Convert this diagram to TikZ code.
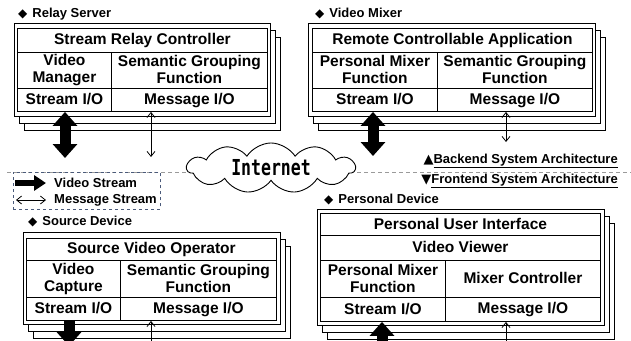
\documentclass[tikz,border=0pt]{standalone}
\usepackage{fontspec}
\setmainfont{Liberation Sans}
\newfontfamily\symfont{DejaVu Sans}
\newfontfamily\netfont{DejaVu Sans Mono}
\usepackage{graphicx}
\usetikzlibrary{shapes.symbols,arrows.meta}
\definecolor{legendcol}{HTML}{4A5A7A}
\definecolor{dashcol}{HTML}{9A9A9A}
\newcommand\cellbox[6]{\node[cell, minimum width=#4pt-#2pt, minimum height=#5pt-#3pt] (#1) at (#2,#3) {#6};}
\newcommand\stack[4]{%
  \draw[layer] (#1+10,#2+14) rectangle (#3+10,#4+14);
  \draw[layer] (#1+5,#2+7) rectangle (#3+5,#4+7);
  \draw[layer] (#1,#2) rectangle (#3,#4);}
\newcommand\dia{{\symfont\fontsize{12}{12}\selectfont ◆}\hspace{5pt}}
\newcommand\topstrut{\rule{0pt}{12pt}}
\newcommand\botstrut{\rule[-2pt]{0pt}{2pt}}
\begin{document}
\begin{tikzpicture}[x=1pt,y=-1pt,
  cell/.style={draw, line width=0.9pt, fill=white, inner sep=0pt, align=center, anchor=north west,
    font=\fontsize{15.5}{17}\selectfont\bfseries,
    execute at begin node=\topstrut, execute at end node=\botstrut},
  layer/.style={draw, line width=0.9pt, fill=white},
  title/.style={anchor=west, inner sep=0pt, font=\fontsize{13}{13}\selectfont\bfseries},
  legtext/.style={anchor=west, inner sep=0pt, font=\fontsize{13}{13}\selectfont\bfseries},
  thickdbl/.style={line width=11pt, {Triangle[width=24pt,length=14pt]}-{Triangle[width=24pt,length=14pt]}},
  thickdown/.style={line width=11pt, -{Triangle[width=24pt,length=14pt]}},
  thickup/.style={line width=11pt, {Triangle[width=24pt,length=14pt]}-},
  thindbl/.style={line width=0.8pt, {Straight Barb[length=5pt,width=8pt]}-{Straight Barb[length=5pt,width=8pt]}},
  dashline/.style={draw=dashcol, line width=0.9pt, dash pattern=on 4pt off 3pt}
]
\clip (0,0) rectangle (631,340);
\fill[white] (0,0) rectangle (631,340);

% separator line
\coordinate (dl) at (7,172);
\coordinate (dr) at (631,172);
\draw[dashline] (dl) -- (dr);

% ---------- Relay Server ----------
\node[title] (rsTitle) at (18,14) {\dia Relay Server};
\stack{14}{23}{270}{116}
\cellbox{rsHead}{17}{28}{267}{52}{Stream Relay Controller}
\cellbox{rsVM}{17}{52}{111}{88}{Video\\Manager}
\cellbox{rsSG}{111}{52}{267}{88}{Semantic Grouping\\Function}
\cellbox{rsStream}{17}{88}{111}{111}{Stream I/O}
\cellbox{rsMsg}{111}{88}{267}{111}{Message I/O}
\coordinate (rsV) at (65,158);
\coordinate (rsM) at (151,157);
\draw[thickdbl] (rsStream.south -| rsV) -- (rsV);
\draw[thindbl] (rsMsg.south -| rsM) -- (rsM);

% ---------- Video Mixer ----------
\node[title] (vmTitle) at (315,14) {\dia Video Mixer};
\stack{308}{23}{595}{116}
\cellbox{vmHead}{312}{28}{592}{52}{Remote Controllable Application}
\cellbox{vmPM}{312}{52}{437}{88}{Personal Mixer\\Function}
\cellbox{vmSG}{437}{52}{592}{88}{Semantic Grouping\\Function}
\cellbox{vmStream}{312}{88}{437}{111}{Stream I/O}
\cellbox{vmMsg}{437}{88}{592}{111}{Message I/O}
\coordinate (vmV) at (373,156);
\coordinate (vmM) at (506,142);
\draw[thickdbl] (vmStream.south -| vmV) -- (vmV);
\draw[thindbl] (vmMsg.south -| vmM) -- (vmM);

% ---------- Cloud ----------
\node[cloud, draw, fill=white, line width=0.9pt, cloud puffs=11, cloud puff arc=115, aspect=3.3,
  minimum width=168pt, minimum height=50pt, inner sep=0pt] (net) at (271,168)
  {\netfont\bfseries\fontsize{22}{22}\selectfont\scalebox{0.75}[1]{Internet}};

% ---------- Architecture labels ----------
\node[legtext, anchor=east] (backend) at (618,161) {{\symfont\fontsize{13}{13}\selectfont ▲}\underline{Backend System Architecture}};
\node[legtext, anchor=east] (frontend) at (618,181) {{\symfont\fontsize{13}{13}\selectfont ▼}\underline{Frontend System Architecture}};

% ---------- Legend ----------
\node[draw=legendcol, dashed, line width=0.8pt, anchor=north west, minimum width=147pt, minimum height=37pt, inner sep=0pt] (legend) at (13,172) {};
\coordinate (lva) at (15,183);
\coordinate (lvb) at (46,183);
\coordinate (lma) at (16,200);
\coordinate (lmb) at (46,200);
\draw[line width=6pt, -{Triangle[width=15pt,length=12pt]}] (lva) -- (lvb);
\draw[thindbl] (lma) -- (lmb);
\node[legtext] (lvt) at (54,183) {Video Stream};
\node[legtext] (lmt) at (54,200) {Message Stream};

% ---------- Source Device ----------
\node[title] (sdTitle) at (28,222) {\dia Source Device};
\stack{23}{232}{280}{324}
\cellbox{sdHead}{26}{238}{276}{260}{Source Video Operator}
\cellbox{sdVC}{26}{260}{120}{297}{Video\\Capture}
\cellbox{sdSG}{120}{260}{276}{297}{Semantic Grouping\\Function}
\cellbox{sdStream}{26}{297}{120}{320}{Stream I/O}
\cellbox{sdMsg}{120}{297}{276}{320}{Message I/O}
\coordinate (sdV) at (69,346);
\coordinate (sdM) at (151,370);
\draw[thickdown] (sdStream.south -| sdV) -- (sdV);
\draw[thindbl] (sdMsg.south -| sdM) -- (sdM);

% ---------- Personal Device ----------
\node[title] (pdTitle) at (324,200) {\dia Personal Device};
\stack{317}{209}{604}{325}
\cellbox{pdHead}{320}{213}{600}{235}{Personal User Interface}
\cellbox{pdVV}{320}{235}{600}{260}{Video Viewer}
\cellbox{pdPM}{320}{260}{445}{297}{Personal Mixer\\Function}
\cellbox{pdMC}{445}{260}{600}{297}{Mixer Controller}
\cellbox{pdStream}{320}{297}{445}{321}{Stream I/O}
\cellbox{pdMsg}{445}{297}{600}{321}{Message I/O}
\coordinate (pdV) at (382,370);
\coordinate (pdM) at (506,370);
\draw[thickup] (pdStream.south -| pdV) -- (pdV);
\draw[thindbl] (pdMsg.south -| pdM) -- (pdM);
\end{tikzpicture}
\end{document}
